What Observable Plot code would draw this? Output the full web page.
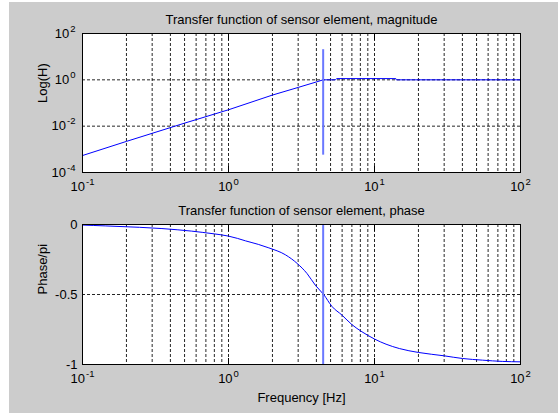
<!DOCTYPE html>
<html>
<head>
<meta charset="utf-8">
<script src="https://cdn.jsdelivr.net/npm/d3@7"></script>
<script src="https://cdn.jsdelivr.net/npm/@observablehq/plot@0.6"></script>
<style>
  html, body { margin: 0; padding: 0; background: #ffffff; }
  #fig { position: absolute; left: 9px; top: 2px; width: 549px; height: 411px; background: #cccccc; }
  #fig svg { display: block; }
</style>
</head>
<body>
<div id="fig"></div>
<script>
// ---- data ----
const titleMag = "Transfer function of sensor element, magnitude";
const titlePhase = "Transfer function of sensor element, phase";
const yLabelMag = "Log(H)";
const yLabelPhase = "Phase/pi";
const xLabel = "Frequency [Hz]";

const xTicks = [0.1, 1, 10, 100];
const xTickLabels = ["10^-1", "10^0", "10^1", "10^2"];
const magTicks = [1e-4, 1e-2, 1, 1e2];
const magTickLabels = ["10^-4", "10^-2", "10^0", "10^2"];
const phaseTicks = [-1, -0.5, 0];
const phaseTickLabels = ["-1", "-0.5", "0"];

const magFreq  = [0.1, 0.2, 0.5, 1, 2, 3, 4, 4.45, 5.4, 5.5, 14, 14.1, 100];
const magValue = [5.4e-4, 2.2e-3, 1.35e-2, 5.1e-2, 0.22, 0.47, 0.81, 1.0, 1.0, 1.13, 1.13, 1.0, 1.0];

const phaseFreq  = [0.1, 0.143, 0.246, 0.35, 0.45, 0.556, 0.66, 0.8, 1, 1.15, 1.31, 1.6, 1.89, 2.45, 2.96, 3.45, 3.93, 4.5, 5.1, 6.0, 7.0, 8.2, 10, 12, 14.8, 20, 30, 40, 55, 75, 100];
const phaseValue = [-0.004, -0.01, -0.02, -0.029, -0.038, -0.047, -0.056, -0.067, -0.083, -0.099, -0.117, -0.142, -0.167, -0.216, -0.279, -0.35, -0.433, -0.502, -0.584, -0.648, -0.715, -0.766, -0.818, -0.855, -0.886, -0.914, -0.938, -0.957, -0.969, -0.978, -0.981];

const resFreq = 4.45;
const resMagRange = [20, 5.6e-4];
const resPhaseRange = [0, -1];

// ---- build ----
const magData = magFreq.map((f, i) => ({f, v: magValue[i]}));
const phaseData = phaseFreq.map((f, i) => ({f, v: phaseValue[i]}));
const gridX = d3.scaleLog().domain([0.1, 100]).ticks();

const FONT = "'Liberation Sans', Arial, Helvetica, sans-serif";
const lookup = (ticks, labels) => d => labels[ticks.findIndex(t => Math.abs(t - d) < 1e-9 * Math.max(1, Math.abs(t)))] ?? "";

function superscripts(svg) {
  d3.select(svg).selectAll('g[aria-label$="tick label"] text').each(function () {
    const t = this.textContent;
    const m = t.match(/^10\^(-?\d+)$/);
    if (!m) return;
    const el = d3.select(this);
    el.text(null);
    el.append("tspan").text("10");
    el.append("tspan").attr("dx", "1").attr("dy", "-6").attr("font-size", "9.5px").text(m[1]);
  });
}

const common = {
  width: 549,
  marginLeft: 73,
  marginRight: 38,
  style: {fontFamily: FONT, fontSize: "13px", background: "transparent", color: "black", overflow: "visible"}
};

const gridStyle = {stroke: "#000", strokeOpacity: 0.85, strokeDasharray: "3,2", strokeWidth: 1};

const plotMag = Plot.plot({
  ...common,
  height: 198,
  marginTop: 31,
  marginBottom: 28,
  x: {type: "log", domain: [0.1, 100]},
  y: {type: "log", domain: [1e-4, 1e2]},
  marks: [
    Plot.frame({fill: "white", stroke: null}),
    Plot.ruleX(gridX, {...gridStyle}),
    Plot.ruleY(magTicks, {...gridStyle}),
    Plot.axisX({ticks: xTicks, tickFormat: lookup(xTicks, xTickLabels), tickSize: 0, tickPadding: 9, label: null, fontSize: 13}),
    Plot.axisX({anchor: "top", ticks: xTicks, tickFormat: () => "", tickSize: -6, label: null}),
    Plot.axisX({anchor: "bottom", ticks: xTicks, tickFormat: () => "", tickSize: -6, label: null}),
    Plot.axisY({ticks: magTicks, tickFormat: lookup(magTicks, magTickLabels), tickSize: 0, tickPadding: 7, label: null, fontSize: 13}),
    Plot.line(magData, {x: "f", y: "v", stroke: "#0000ff", strokeWidth: 1}),
    Plot.ruleX([resFreq], {y1: resMagRange[0], y2: resMagRange[1], stroke: "#6a78ff", strokeWidth: 2}),
    Plot.frame({stroke: "black", strokeWidth: 1}),
    Plot.text([titleMag], {frameAnchor: "top", dy: -10, lineAnchor: "bottom", fontSize: 13, fill: "black"}),
    Plot.text([yLabelMag], {frameAnchor: "left", dx: -36, rotate: -90, lineAnchor: "bottom", fontSize: 13, fill: "black"})
  ]
});
superscripts(plotMag);

const plotPhase = Plot.plot({
  ...common,
  height: 211,
  marginTop: 24,
  marginBottom: 47,
  x: {type: "log", domain: [0.1, 100]},
  y: {type: "linear", domain: [-1, 0]},
  marks: [
    Plot.frame({fill: "white", stroke: null}),
    Plot.ruleX(gridX, {...gridStyle}),
    Plot.ruleY(phaseTicks, {...gridStyle}),
    Plot.axisX({ticks: xTicks, tickFormat: lookup(xTicks, xTickLabels), tickSize: 0, tickPadding: 9, label: null, fontSize: 13}),
    Plot.axisX({anchor: "top", ticks: xTicks, tickFormat: () => "", tickSize: -6, label: null}),
    Plot.axisX({anchor: "bottom", ticks: xTicks, tickFormat: () => "", tickSize: -6, label: null}),
    Plot.axisY({ticks: phaseTicks, tickFormat: lookup(phaseTicks, phaseTickLabels), tickSize: 0, tickPadding: 5, label: null, fontSize: 13}),
    Plot.line(phaseData, {x: "f", y: "v", stroke: "#0000ff", strokeWidth: 1, curve: "monotone-x"}),
    Plot.ruleX([resFreq], {y1: resPhaseRange[0], y2: resPhaseRange[1], stroke: "#6a78ff", strokeWidth: 2}),
    Plot.frame({stroke: "black", strokeWidth: 1}),
    Plot.text([titlePhase], {frameAnchor: "top", dy: -10, lineAnchor: "bottom", fontSize: 13, fill: "black"}),
    Plot.text([yLabelPhase], {frameAnchor: "left", dx: -36, rotate: -90, lineAnchor: "bottom", fontSize: 13, fill: "black"}),
    Plot.text([xLabel], {frameAnchor: "bottom", dy: 37, lineAnchor: "bottom", fontSize: 13, fill: "black"})
  ]
});
superscripts(plotPhase);

const fig = document.getElementById("fig");
fig.appendChild(plotMag);
fig.appendChild(plotPhase);
</script>
</body>
</html>
